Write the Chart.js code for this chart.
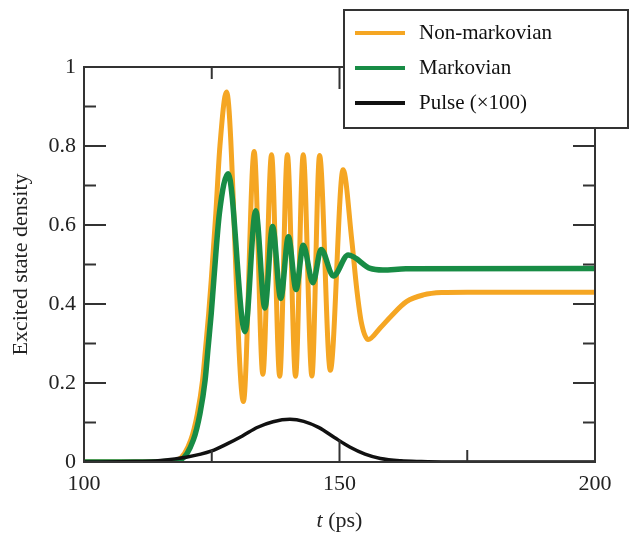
<!DOCTYPE html>
<html>
<head>
<meta charset="utf-8">
<script src="https://cdn.jsdelivr.net/npm/chart.js@4.4.1/dist/chart.umd.min.js"></script>
<style>
  html, body { margin: 0; padding: 0; background: #fff; }
</style>
</head>
<body>
<canvas id="chart" width="630" height="534"></canvas>
<script>
// Non-markovian density (t in ps)
const nonMarkovT = [100, 112, 115.5, 118.3, 120.9, 122.2, 123.2, 123.8, 124.4, 124.9, 125.8, 126.6, 127.9,
  131.2, 133.3, 135.0, 136.7, 138.3, 139.8, 141.4, 142.9, 144.6, 146.1, 148.2, 150.7,
  152.4, 153.4, 154.3, 155.6, 158.0, 160.0, 163.1, 166.4, 170.0, 175.0, 200];
const nonMarkovV = [0, 0, 0.001, 0.005, 0.056, 0.123, 0.207, 0.29, 0.376, 0.46, 0.63, 0.80, 0.937,
  0.153, 0.786, 0.222, 0.778, 0.217, 0.778, 0.217, 0.778, 0.218, 0.776, 0.232, 0.74,
  0.562, 0.435, 0.352, 0.31, 0.34, 0.368, 0.406, 0.423, 0.429, 0.43, 0.43];

// Markovian density
const markovT = [100, 112, 116, 118.8, 121.4, 122.7, 123.7, 124.3, 124.9, 125.4, 126.5, 128.2,
  131.5, 133.6, 135.4, 136.9, 138.5, 140.0, 141.5, 142.9, 144.8, 146.4, 148.8, 151.7,
  156.0, 158.5, 163.0, 200];
const markovV = [0, 0, 0.001, 0.005, 0.056, 0.123, 0.207, 0.292, 0.376, 0.46, 0.63, 0.73,
  0.33, 0.636, 0.39, 0.596, 0.414, 0.57, 0.437, 0.549, 0.454, 0.538, 0.471, 0.524,
  0.49, 0.486, 0.489, 0.49];

// Pulse (x100)
const pulseT = [100, 110, 115, 120, 125, 128, 131, 134, 137, 140.3, 143, 146, 149, 152, 155, 158, 162, 166, 170, 200];
const pulseV = [0, 0.001, 0.004, 0.012, 0.028, 0.046, 0.066, 0.088, 0.102, 0.108, 0.103, 0.087, 0.062, 0.038, 0.02, 0.009, 0.003, 0.001, 0, 0];

// Axis ticks
const xTickLabels = [100, 150, 200];
const xMajorTicks = [150];
const xMinorTicks = [125, 175];
const yTickLabels = [0, 0.2, 0.4, 0.6, 0.8, 1];
const yMajorTicks = [0.2, 0.4, 0.6, 0.8];
const yMinorTicks = [0.1, 0.3, 0.5, 0.7, 0.9];

const FONT = '"Liberation Serif", "DejaVu Serif", serif';
const INK = '#333';
const ORANGE = '#f5a623';
const GREEN = '#188c45';
const BLACK = '#111';

const toPoints = (ts, vs) => ts.map((t, i) => ({ x: t, y: vs[i] }));

// Cadre + graduations vers l'intérieur
const framePlugin = {
  id: 'frame',
  afterDatasetsDraw(chart) {
    const { ctx, chartArea: a, scales: { x, y } } = chart;
    ctx.save();
    ctx.strokeStyle = INK;
    ctx.lineWidth = 2;
    ctx.strokeRect(a.left, a.top, a.right - a.left, a.bottom - a.top);
    const seg = (x1, y1, x2, y2) => { ctx.beginPath(); ctx.moveTo(x1, y1); ctx.lineTo(x2, y2); ctx.stroke(); };
    const tickX = (vals, len) => vals.forEach(v => {
      const px = x.getPixelForValue(v);
      seg(px, a.bottom, px, a.bottom - len);
      seg(px, a.top, px, a.top + len);
    });
    const tickY = (vals, len) => vals.forEach(v => {
      const py = y.getPixelForValue(v);
      seg(a.left, py, a.left + len, py);
      seg(a.right, py, a.right - len, py);
    });
    tickX(xMajorTicks, 22);
    tickX(xMinorTicks, 12);
    tickY(yMajorTicks, 22);
    tickY(yMinorTicks, 12);

    // titre de l'axe x : "t (ps)" avec t en italique
    const cx = (a.left + a.right) / 2;
    const ty = 521;
    ctx.fillStyle = '#222';
    ctx.textBaseline = 'middle';
    ctx.font = 'italic 22px ' + FONT;
    const w1 = ctx.measureText('t').width;
    ctx.font = '22px ' + FONT;
    const w2 = ctx.measureText(' (ps)').width;
    const start = cx - (w1 + w2) / 2;
    ctx.textAlign = 'left';
    ctx.font = 'italic 22px ' + FONT;
    ctx.fillText('t', start, ty);
    ctx.font = '22px ' + FONT;
    ctx.fillText(' (ps)', start + w1, ty);
    ctx.restore();
  }
};

// Légende encadrée en haut à droite
const legendPlugin = {
  id: 'boxLegend',
  afterDraw(chart) {
    const { ctx } = chart;
    ctx.save();
    ctx.fillStyle = '#fff';
    ctx.fillRect(344, 10, 284, 118);
    ctx.strokeStyle = INK;
    ctx.lineWidth = 2;
    ctx.strokeRect(344, 10, 284, 118);
    ctx.font = '21px ' + FONT;
    ctx.textBaseline = 'middle';
    ctx.textAlign = 'left';
    chart.data.datasets.forEach((ds, i) => {
      const yy = 33 + i * 35;
      ctx.strokeStyle = ds.borderColor;
      ctx.lineWidth = 4;
      ctx.beginPath();
      ctx.moveTo(355, yy);
      ctx.lineTo(405, yy);
      ctx.stroke();
      ctx.fillStyle = '#111';
      ctx.fillText(ds.label, 419, yy);
    });
    ctx.restore();
  }
};

const ctx = document.getElementById('chart').getContext('2d');

new Chart(ctx, {
  type: 'line',
  data: {
    datasets: [
      { label: 'Non-markovian', data: toPoints(nonMarkovT, nonMarkovV), borderColor: ORANGE, borderWidth: 5, order: 3 },
      { label: 'Markovian', data: toPoints(markovT, markovV), borderColor: GREEN, borderWidth: 5.5, order: 2 },
      { label: 'Pulse (\u00d7100)', data: toPoints(pulseT, pulseV), borderColor: BLACK, borderWidth: 3.5, order: 1 },
    ],
  },
  options: {
    responsive: false,
    animation: false,
    layout: { padding: { top: 67, right: 35, left: 0, bottom: 0 } },
    elements: {
      point: { radius: 0 },
      line: { cubicInterpolationMode: 'monotone', fill: false, borderJoinStyle: 'round', borderCapStyle: 'round' },
    },
    plugins: { legend: { display: false }, tooltip: { enabled: false } },
    scales: {
      x: {
        type: 'linear',
        min: 100,
        max: 200,
        afterBuildTicks: s => { s.ticks = xTickLabels.map(v => ({ value: v })); },
        afterFit: s => { s.height = 72; },
        grid: { display: false, drawTicks: false },
        border: { display: false },
        ticks: { padding: 9, color: '#222', maxRotation: 0, font: { family: FONT, size: 22 } },
      },
      y: {
        min: 0,
        max: 1,
        afterBuildTicks: s => { s.ticks = yTickLabels.map(v => ({ value: v })); },
        afterFit: s => { s.width = 84; },
        grid: { display: false, drawTicks: false },
        border: { display: false },
        ticks: {
          padding: 8,
          color: '#222',
          font: { family: FONT, size: 22 },
          callback: v => String(Number(v.toFixed(1))),
        },
        title: {
          display: true,
          text: 'Excited state density',
          color: '#222',
          padding: { top: 8, bottom: 0 },
          font: { family: FONT, size: 22 },
        },
      },
    },
  },
  plugins: [framePlugin, legendPlugin],
});
</script>
</body>
</html>
